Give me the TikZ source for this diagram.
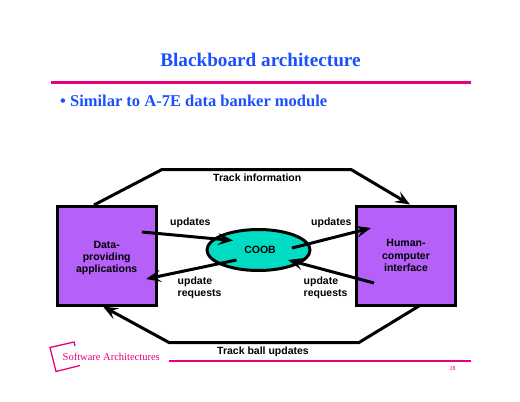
\documentclass[tikz,border=0pt]{standalone}
\usepackage{fontspec}
\setmainfont{Liberation Serif}
\newfontfamily\lsans{Liberation Sans}
\usetikzlibrary{arrows.meta,shapes.geometric}
\definecolor{ttl}{HTML}{1A50FF}
\definecolor{pnk}{HTML}{E6007E}
\definecolor{purp}{HTML}{B560F8}
\definecolor{teal2}{HTML}{00DCC4}
\tikzset{
  boxn/.style={draw=black,line width=3pt,fill=purp,minimum width=99pt,minimum height=99pt,inner sep=0pt,align=center,font=\lsans\bfseries\fontsize{10.5}{12.4}\selectfont},
  lbl/.style={inner sep=0pt,align=left,font=\lsans\bfseries\fontsize{10.5}{12.4}\selectfont},
  link/.style={draw=black,line width=3pt,line join=miter},
  arr/.style={link,-{Stealth[length=15pt,width=12pt,inset=6pt]}},
  rulep/.style={draw=pnk,line width=2.6pt}
}
\begin{document}
\begin{tikzpicture}[x=1pt,y=-1pt]
\useasboundingbox (0,0) rectangle (520,402);
% header
\node[inner sep=0pt,text=ttl,font=\bfseries\fontsize{19.2}{24}\selectfont] (title) at (260.5,60) {Blackboard architecture};
\coordinate (r1a) at (51,82.3); \coordinate (r1b) at (471,82.3);
\draw[rulep] (r1a) -- (r1b);
\node[inner sep=0pt,anchor=west,text=ttl,font=\bfseries\fontsize{16.5}{20}\selectfont] (bullet) at (60,100.5) {\textbullet\ Similar to A-7E data banker module};
% boxes
\node[boxn] (dp) at (107,255.5) {};
\node[lbl,align=center] (dpt) at (106.7,258) {Data-\\providing\\applications};
\node[boxn] (hc) at (406,255.5) {Human-\\computer\\interface};
\node[draw=black,line width=3pt,fill=teal2,ellipse,minimum width=103pt,minimum height=41pt,inner sep=0pt,font=\lsans\bfseries\fontsize{10.5}{12}\selectfont] (coob) at (258.5,250) {\hspace{3pt}COOB};
% free ends
\coordinate (a1) at (142,232); \coordinate (a2) at (233,240.5);
\coordinate (b1) at (236.5,260); \coordinate (b2) at (146,279);
\coordinate (c1) at (292,248); \coordinate (c2) at (371,228);
\coordinate (d1) at (374,283); \coordinate (d2) at (288,260);
\coordinate (t1) at (94,205); \coordinate (t2) at (162,169.5); \coordinate (t3) at (351,169.5); \coordinate (t4) at (410,204.5);
\coordinate (u1) at (419,306); \coordinate (u2) at (359,342.5); \coordinate (u3) at (169,342.5); \coordinate (u4) at (103,306.5);
\draw[arr] (t1) -- (t2) -- (t3) -- (t4);
\draw[arr] (u1) -- (u2) -- (u3) -- (u4);
\draw[arr] (a1) -- (a2);
\draw[arr] (b1) -- (b2);
\draw[arr] (c1) -- (c2);
\draw[arr] (d1) -- (d2);
% labels
\node[lbl,anchor=west] (l1) at (170,222.5) {updates};
\node[lbl,anchor=west] (l2) at (311,222.5) {updates};
\node[lbl,anchor=west] (l3) at (177.5,288) {update\\requests};
\node[lbl,anchor=west] (l4) at (303.5,288) {update\\requests};
\node[lbl,anchor=west] (l5) at (213,178) {Track information};
\node[lbl,anchor=west] (l6) at (217,351.5) {Track ball updates};
% footer
\coordinate (r2a) at (169,361); \coordinate (r2b) at (471,361);
\draw[rulep] (r2a) -- (r2b);
\coordinate (g0) at (75,346); \coordinate (g1) at (74,342); \coordinate (g2) at (50,347.5); \coordinate (g3) at (56,371.5); \coordinate (g4) at (80,365.5);
\draw[draw=pnk,line width=1.3pt] (g0) -- (g1) -- (g2) -- (g3) -- (g4);
\node[inner sep=0pt,anchor=west,text=pnk,font=\fontsize{10.5}{13}\selectfont] (sa) at (62.5,356.5) {Software Architectures};
\node[inner sep=0pt,text=pnk,font=\fontsize{6}{7}\selectfont] (pg) at (452.5,369) {28};
\end{tikzpicture}
\end{document}
